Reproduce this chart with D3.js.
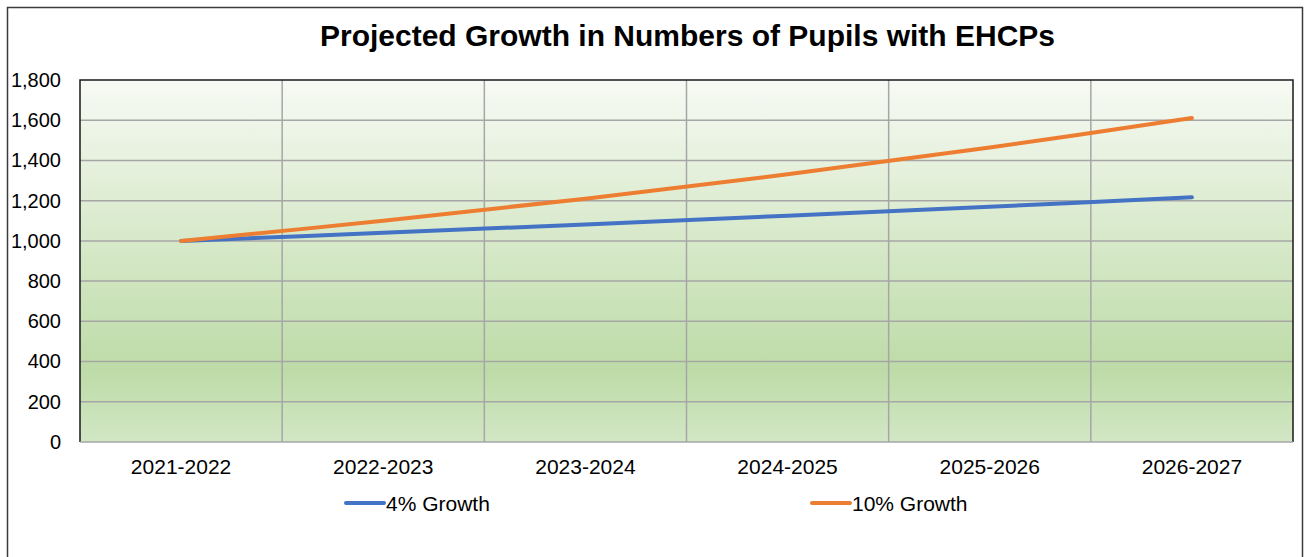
<!DOCTYPE html>
<html><head><meta charset="utf-8">
<script src="https://cdn.jsdelivr.net/npm/d3@7"></script>
<style>body{margin:0;background:#fff;}svg{display:block;font-family:"Liberation Sans",Arial,sans-serif;}</style>
</head><body>
<svg id="c" width="1305" height="557"></svg>
<script>
const title = "Projected Growth in Numbers of Pupils with EHCPs";
const categories = ["2021-2022","2022-2023","2023-2024","2024-2025","2025-2026","2026-2027"];
const growth4 = [1000,1040,1082,1125,1170,1217];
const growth10 = [1000,1100,1210,1331,1464,1611];
const yTicks = [0,200,400,600,800,1000,1200,1400,1600,1800];
const seriesNames = ["4% Growth","10% Growth"];
const seriesColors = ["#4472c4","#ed7d31"];

const svg = d3.select("#c");
const m = {left:80, right:1293, top:80, bottom:442};

// outer border
svg.append("rect").attr("x",7.5).attr("y",7.5).attr("width",1295).attr("height",560)
  .attr("fill","#fff").attr("stroke","#3a3a3a").attr("stroke-width",1.5);
svg.append("line").attr("x1",1303.5).attr("x2",1303.5).attr("y1",7).attr("y2",557).attr("stroke","#d0d0d0");

const defs = svg.append("defs");
const g = defs.append("linearGradient").attr("id","bg").attr("x1",0).attr("y1",0).attr("x2",0).attr("y2",1);
g.append("stop").attr("offset","0%").attr("stop-color","#f7faf4");
g.append("stop").attr("offset","80%").attr("stop-color","#bddba7");
g.append("stop").attr("offset","100%").attr("stop-color","#d2e7c5");

const x = d3.scaleBand().domain(categories).range([m.left,m.right]);
const y = d3.scaleLinear().domain([0,1800]).range([m.bottom,m.top]);

svg.append("rect").attr("x",m.left).attr("y",m.top).attr("width",m.right-m.left).attr("height",m.bottom-m.top)
  .attr("fill","url(#bg)");

// horizontal gridlines
svg.append("g").selectAll("line").data(yTicks.filter(d=>d>0&&d<1800)).join("line")
  .attr("x1",m.left).attr("x2",m.right).attr("y1",d=>y(d)).attr("y2",d=>y(d))
  .attr("stroke","#a6a6a6").attr("stroke-width",1.5);
// vertical gridlines at category boundaries
svg.append("g").selectAll("line").data(categories.slice(1)).join("line")
  .attr("x1",d=>x(d)).attr("x2",d=>x(d)).attr("y1",m.top).attr("y2",m.bottom)
  .attr("stroke","#a6a6a6").attr("stroke-width",1.5);

// plot border: top, left, right black; bottom gray axis
svg.append("path").attr("d",`M${m.left},${m.bottom}V${m.top}H${m.right}V${m.bottom}`)
  .attr("fill","none").attr("stroke","#1a1a1a").attr("stroke-width",1.5);
svg.append("line").attr("x1",m.left).attr("x2",m.right).attr("y1",m.bottom).attr("y2",m.bottom)
  .attr("stroke","#a6a6a6").attr("stroke-width",1.5);

// y axis labels
const ya = svg.append("g").attr("transform",`translate(${m.left},0)`)
  .call(d3.axisLeft(y).tickValues(yTicks).tickFormat(d3.format(",")).tickSize(0).tickPadding(19));
ya.select(".domain").remove();
ya.selectAll("text").attr("font-size",20).attr("fill","#000").attr("font-family","Liberation Sans, Arial, sans-serif");

// x axis labels
const xa = svg.append("g").attr("transform",`translate(0,${m.bottom})`)
  .call(d3.axisBottom(x).tickSize(0).tickPadding(17));
xa.select(".domain").remove();
xa.selectAll("text").attr("font-size",21).attr("fill","#000").attr("font-family","Liberation Sans, Arial, sans-serif");

// lines
const line = d3.line().x((d,i)=>x(categories[i])+x.bandwidth()/2).y(d=>y(d)).curve(d3.curveCatmullRom.alpha(0.5));
[growth4,growth10].forEach((s,i)=>{
  svg.append("path").datum(s).attr("d",line).attr("fill","none")
    .attr("stroke",seriesColors[i]).attr("stroke-width",4).attr("stroke-linecap","round");
});

// title
svg.append("text").attr("x",(m.left+m.right)/2 + 1).attr("y",46).attr("text-anchor","middle")
  .attr("font-size",30).attr("font-weight","bold").attr("fill","#000").text(title);

// legend
const legX = [346,812];
seriesNames.forEach((n,i)=>{
  const lg = svg.append("g").attr("transform",`translate(${legX[i]},503)`);
  lg.append("line").attr("x1",0).attr("x2",38).attr("y1",0).attr("y2",0)
    .attr("stroke",seriesColors[i]).attr("stroke-width",4).attr("stroke-linecap","round");
  lg.append("text").attr("x",40).attr("y",7.5).attr("font-size",21).attr("fill","#000").text(n);
});
</script>
</body></html>
